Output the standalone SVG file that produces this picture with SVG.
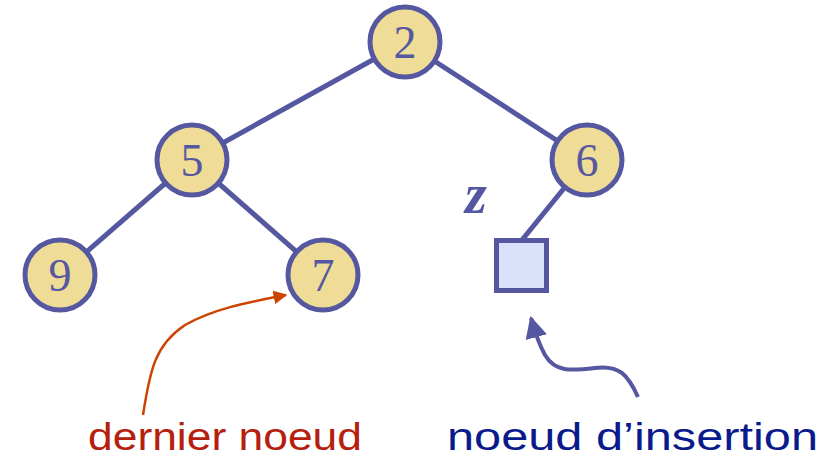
<svg xmlns="http://www.w3.org/2000/svg" width="838" height="458" viewBox="0 0 838 458">
<style>
.edge{stroke:#5558a0;stroke-width:5;fill:none}
.node circle{fill:#efdc96;stroke:#5558a0;stroke-width:5}
.node text{font-family:"Liberation Serif",serif;font-size:46px;fill:#5558a0;text-anchor:middle}
.lbl{font-family:"Liberation Sans",sans-serif;font-size:38px}
</style>
<defs>
<marker id="ao" viewBox="0 0 10 10" refX="9" refY="5" markerWidth="5.5" markerHeight="5.5" orient="auto" markerUnits="strokeWidth"><path d="M0,0L10,5L0,10z" fill="#cc4400"/></marker>
<marker id="ab" viewBox="0 0 10 10" refX="9" refY="5" markerWidth="5.5" markerHeight="5.5" orient="auto" markerUnits="strokeWidth"><path d="M0,0L10,5L0,10z" fill="#5558a0"/></marker>
</defs>
<g id="connectors">
<line class="edge" x1="405" y1="42" x2="192" y2="160"/>
<line class="edge" x1="405" y1="42" x2="587" y2="160"/>
<line class="edge" x1="192" y1="160" x2="60" y2="275"/>
<line class="edge" x1="192" y1="160" x2="323" y2="275"/>
<line class="edge" x1="587" y1="160" x2="522" y2="240"/>
<path d="M143,415 C150,370 155,345 185,325 C215,308 250,302 286,295" fill="none" stroke="#cc4400" stroke-width="2.5" marker-end="url(#ao)"/>
<path d="M638,397 C628,375 620,365 595,368 C570,371 555,372 545,355 C540,346 536,336 531,318" fill="none" stroke="#5558a0" stroke-width="4" marker-end="url(#ab)"/>
</g>
<g id="n2" class="node"><circle cx="405" cy="42" r="35"/><text x="405" y="58">2</text></g>
<g id="n5" class="node"><circle cx="192" cy="160" r="35"/><text x="192" y="176">5</text></g>
<g id="n6" class="node"><circle cx="587" cy="160" r="35"/><text x="587" y="176">6</text></g>
<g id="n9" class="node"><circle cx="60" cy="275" r="35"/><text x="60" y="291">9</text></g>
<g id="n7" class="node"><circle cx="323" cy="275" r="35"/><text x="323" y="291">7</text></g>
<g id="z">
<rect x="496.5" y="240.5" width="50" height="50" fill="#d9e1fb" stroke="#5558a0" stroke-width="5"/>
<text x="465" y="213" font-family="Liberation Serif,serif" font-size="56" font-weight="bold" font-style="italic" fill="#5558a0">z</text>
</g>
<text class="lbl" x="88" y="450" fill="#b5200e" textLength="274" lengthAdjust="spacingAndGlyphs">dernier noeud</text>
<text class="lbl" x="447" y="450" fill="#0a1a8c" textLength="371" lengthAdjust="spacingAndGlyphs">noeud d’insertion</text>
</svg>
